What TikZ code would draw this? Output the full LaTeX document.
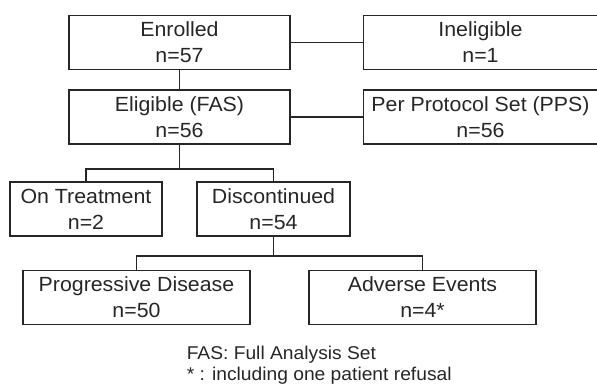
\documentclass[tikz,border=0pt]{standalone}
\usepackage{fontspec}
\setmainfont{Liberation Sans}[FakeStretch=1.04]
\usetikzlibrary{positioning}

\begin{document}
\begin{tikzpicture}[x=1pt, y=1pt, line width=1.5pt, color=black!85,
    box/.style={draw, align=center, inner sep=0pt, minimum height=54pt,
        font=\fontsize{20.5}{26}\selectfont},
    note/.style={anchor=base west, inner sep=0pt, font=\fontsize{18.5}{21}\selectfont}]
    \useasboundingbox (0,0) rectangle (597,384);
    \node [box, minimum width=221pt] (enrolled) at (179.5,341.5) {Enrolled\\n=57};
    \node [box, minimum width=234pt, right=72pt of enrolled] (inelig) {Ineligible\\n=1};
    \node [box, minimum width=221pt, below=19pt of enrolled] (eligible) {Eligible (FAS)\\n=56};
    \node [box, minimum width=234pt, right=72pt of eligible] (pps) {Per Protocol Set (PPS)\\n=56};
    \node [box, minimum width=152pt] (ontreat) at (86,175) {On Treatment\\n=2};
    \node [box, minimum width=153pt] (discont) at (273.5,175) {Discontinued\\n=54};
    \node [box, minimum width=227pt] (progdis) at (136.5,86.5) {Progressive Disease\\n=50};
    \node [box, minimum width=227pt] (adverse) at (422.5,86.5) {Adverse Events\\n=4*};
    \coordinate (split1) at (179.5,215);
    \coordinate (split2) at (273.5,128);
    \draw (enrolled) -- (inelig);
    \draw (enrolled) -- (eligible);
    \draw (eligible) -- (pps);
    \draw (eligible) -- (split1);
    \draw (ontreat) |- (split1) -| (discont);
    \draw (discont) -- (split2);
    \draw (progdis) |- (split2) -| (adverse);
    \node [note] (fasnote) at (186,25) {FAS: Full Analysis Set};
    \node [note] (starnote) at (186,4) {* : including one patient refusal};
\end{tikzpicture}
\end{document}
